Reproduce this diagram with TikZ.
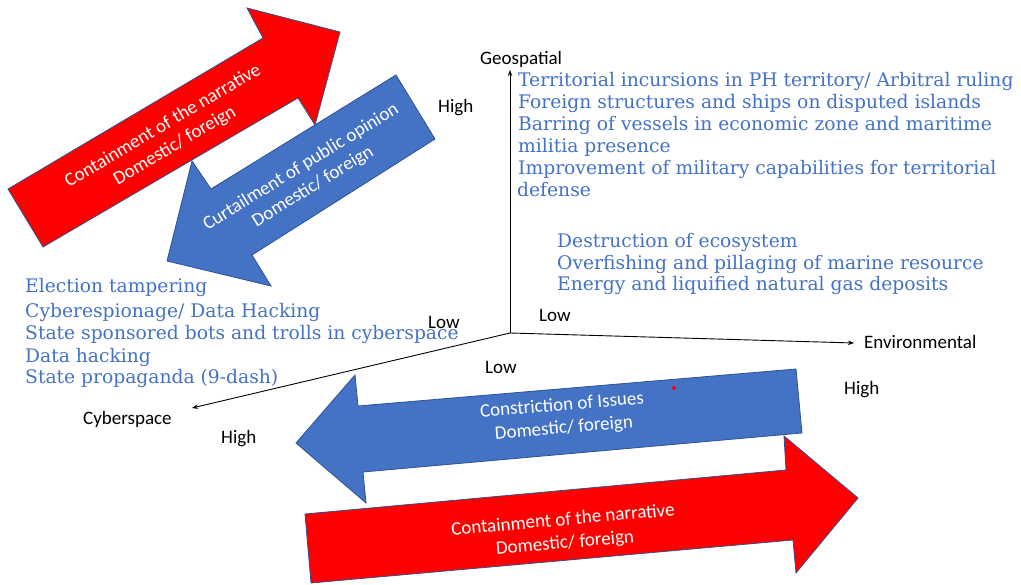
\documentclass[tikz,border=0pt]{standalone}
\usepackage{fontspec}
\setmainfont{Carlito}
\newfontfamily\serifblue{DejaVu Serif}
\usetikzlibrary{arrows.meta}
\definecolor{pblue}{HTML}{4472C4}
\definecolor{pred}{HTML}{FF0000}
\definecolor{pedge}{HTML}{2F528F}
\begin{document}
\begin{tikzpicture}[x=1pt,y=-1pt,
  shapeblue/.style={fill=pblue,draw=pedge,line width=0.8pt},
  shapered/.style={fill=pred,draw=pedge,line width=0.8pt},
  axislbl/.style={font=\fontsize{19}{21}\selectfont,text=black,inner sep=0pt,anchor=base west},
  itemtxt/.style={font=\serifblue\fontsize{18.7}{22}\selectfont,text=pblue,anchor=base west,inner sep=0pt},
  arrtxt/.style={font=\fontsize{19}{23}\selectfont,text=white,align=center,inner sep=0pt},
  axisline/.style={draw=black,line width=0.9pt,-{Stealth[length=6pt,width=4.5pt]}}
]
\useasboundingbox (0,0) rectangle (1021,585);
\fill[white] (0,0) rectangle (1021,585);

% top-left arrows
\draw[shapered] (8,189) -- (263,38) -- (247,8) -- (340,32) -- (315,125) -- (298,98) -- (43,247) -- cycle;
\draw[shapeblue] (396,75) -- (435,139) -- (252,255) -- (271,286) -- (167,261) -- (192,161) -- (211,189) -- cycle;
\node[arrtxt,rotate=30.6] (redtoptxt) at (169,136) {Containment of the narrative\\Domestic/ foreign};
\node[arrtxt,rotate=31.6] (bluetoptxt) at (307,177) {Curtailment of public opinion\\Domestic/ foreign};

% bottom arrows
\draw[shapeblue] (796,369) -- (802,433) -- (363,472) -- (366,503) -- (296,443) -- (355,375) -- (358,406) -- cycle;
\draw[shapered] (305,514) -- (786,470) -- (784,436) -- (858,498) -- (796,573) -- (793,540) -- (311,583) -- cycle;
\node[arrtxt,rotate=4.8] (bluebottxt) at (563,417) {Constriction of Issues\\Domestic/ foreign};
\node[arrtxt,rotate=5.1] (redbottxt) at (564,532) {Containment of the narrative\\Domestic/ foreign};
\fill[pred] (674,388) circle (2);

% axes
\coordinate (origin) at (510,333);
\coordinate (geoend) at (510,70);
\coordinate (envend) at (854,343);
\coordinate (cyberend) at (192,408);
\draw[axisline] (origin) -- (geoend);
\draw[axisline] (origin) -- (envend);
\draw[axisline] (origin) -- (cyberend);

% blue text blocks
\node[itemtxt] (g1) at (518,87) {Territorial incursions in PH territory/ Arbitral ruling};
\node[itemtxt] (g2) at (518,109) {Foreign structures and ships on disputed islands};
\node[itemtxt] (g3) at (518,131) {Barring of vessels in economic zone and maritime};
\node[itemtxt] (g4) at (518,153) {militia presence};
\node[itemtxt] (g5) at (518,175) {Improvement of military capabilities for territorial};
\node[itemtxt] (g6) at (517,197) {defense};

\node[itemtxt] (e1) at (557,248) {Destruction of ecosystem};
\node[itemtxt] (e2) at (557,270) {Overfishing and pillaging of marine resource};
\node[itemtxt] (e3) at (557,291) {Energy and liquified natural gas deposits};

\node[itemtxt] (c1) at (25,293) {Election tampering};
\node[itemtxt] (c2) at (25,318) {Cyberespionage/ Data Hacking};
\node[itemtxt] (c3) at (25,340) {State sponsored bots and trolls in cyberspace};
\node[itemtxt] (c4) at (25,363) {Data hacking};
\node[itemtxt] (c5) at (25,384) {State propaganda (9-dash)};

% axis labels
\node[axislbl] (geolbl) at (480,65) {Geospatial};
\node[axislbl] (hightop) at (438,113) {High};
\node[axislbl] (lowleft) at (428,329) {Low};
\node[axislbl] (lowtop) at (539,322) {Low};
\node[axislbl] (lowbot) at (485,374) {Low};
\node[axislbl] (envlbl) at (864,349) {Environmental};
\node[axislbl] (highright) at (844,395) {High};
\node[axislbl] (cyberlbl) at (83,425) {Cyberspace};
\node[axislbl] (highleft) at (221,443) {High};
\end{tikzpicture}
\end{document}
